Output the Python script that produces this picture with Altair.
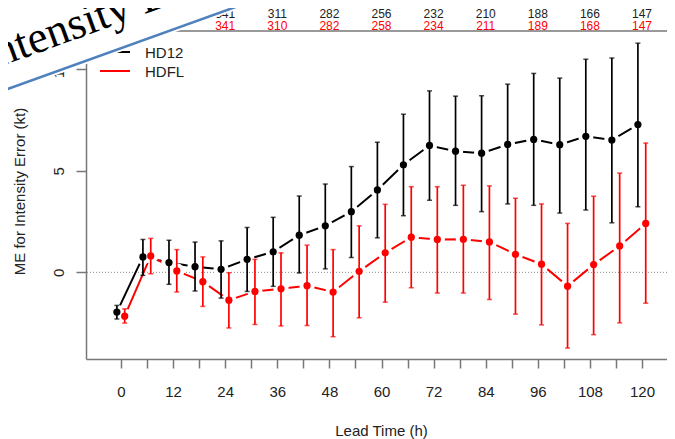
import altair as alt
import pandas as pd

# ---------------- data ----------------
lead = [0, 6, 12, 18, 24, 30, 36, 42, 48, 54, 60, 66, 72, 78, 84, 90, 96, 102, 108, 114, 120]

hd12_me = [-1.96, 0.76, 0.48, 0.28, 0.15, 0.64, 1.01, 1.83, 2.29, 2.99, 4.06,
           5.30, 6.25, 5.97, 5.87, 6.30, 6.55, 6.29, 6.70, 6.52, 7.28]
hd12_lo = [-2.30, -0.15, -0.59, -0.92, -1.27, -0.94, -0.69, -0.03, 0.17, 0.73, 1.70,
           2.79, 3.55, 3.30, 2.99, 3.37, 3.30, 2.92, 3.07, 2.44, 3.23]
hd12_hi = [-1.63, 1.62, 1.58, 1.49, 1.55, 2.21, 2.71, 3.76, 4.35, 5.21, 6.41,
           7.79, 8.94, 8.68, 8.70, 9.27, 9.80, 9.57, 10.50, 10.56, 11.29]

hdfl_me = [-2.16, 0.81, 0.07, -0.46, -1.37, -0.94, -0.81, -0.66, -0.97, 0.05, 0.96,
           1.73, 1.62, 1.63, 1.50, 0.89, 0.40, -0.68, 0.38, 1.30, 2.41]
hdfl_lo = [-2.50, -0.07, -0.97, -1.68, -2.74, -2.57, -2.64, -2.62, -3.17, -2.24, -1.47,
           -0.76, -1.02, -1.02, -1.34, -2.06, -2.59, -3.73, -3.07, -2.49, -1.52]
hdfl_hi = [-1.80, 1.67, 1.12, 0.76, -0.02, 0.64, 0.96, 1.34, 1.12, 2.29, 3.35,
           4.22, 4.22, 4.29, 4.26, 3.65, 3.37, 2.41, 3.75, 4.89, 6.37]

count_lead = [24, 36, 48, 60, 72, 84, 96, 108, 120]
hd12_n = [341, 311, 282, 256, 232, 210, 188, 166, 147]
hdfl_n = [341, 310, 282, 258, 234, 211, 189, 168, 147]

models = ["HD12", "HDFL"]
colors = ["#000000", "#ff0000"]
dodge = {"HD12": -0.95, "HDFL": 0.85}

# ---------------- tables ----------------
rows = []
for m, me, lo, hi in [("HD12", hd12_me, hd12_lo, hd12_hi), ("HDFL", hdfl_me, hdfl_lo, hdfl_hi)]:
    for t, a, b, c in zip(lead, me, lo, hi):
        rows.append({"lead": t, "model": m, "me": a, "lo": b, "hi": c, "xpos": t + dodge[m]})
df = pd.DataFrame(rows)

cnt_hd12 = pd.DataFrame({"lead": count_lead, "n": [str(v) for v in hd12_n]})
cnt_hdfl = pd.DataFrame({"lead": count_lead, "n": [str(v) for v in hdfl_n]})
one = pd.DataFrame({"k": [0]})  # single row for decorations

FONT = "Liberation Sans"
AX = "#777777"
TXT = "#222222"

W, H = 581, 328

xscale = alt.Scale(domain=[-8.06, 125.75], nice=False, zero=False)
yscale = alt.Scale(domain=[-4.27, 11.89], nice=False, zero=False)

xaxis = alt.Axis(
    values=list(range(0, 121, 6)),
    labelExpr="datum.value % 12 === 0 ? datum.label : ''",
    tickSize=9, labelPadding=16, domainColor=AX, tickColor=AX,
    domainWidth=1.5, tickWidth=1.5, grid=False,
    labelFont=FONT, labelFontSize=15, labelColor=TXT,
    labelOverlap=False, labelFlush=False,
    title="Lead Time (h)", titleFont=FONT, titleFontSize=15,
    titleFontWeight="normal", titleColor=TXT,
    titleBaseline="alphabetic", titleAlign="center", titleX=295, titleY=76,
)
yaxis = alt.Axis(
    values=[0, 5, 10], tickSize=10, labelAngle=270, labelAlign="center",
    labelBaseline="middle", labelPadding=18,
    domainColor=AX, tickColor=AX, domainWidth=1.5, tickWidth=1.5, grid=False,
    labelFont=FONT, labelFontSize=15, labelColor=TXT,
    title="ME for Intensity Error (kt)", titleFont=FONT, titleFontSize=15,
    titleFontWeight="normal", titleColor=TXT, titleAngle=270,
    titleAlign="center", titleBaseline="middle", titleX=-67, titleY=160,
)


def X(field):
    return alt.X(field, type="quantitative", scale=xscale, axis=xaxis, title="Lead Time (h)")


def Y(field):
    return alt.Y(field, type="quantitative", scale=yscale, axis=yaxis,
                 title="ME for Intensity Error (kt)")


color = alt.Color("model:N", scale=alt.Scale(domain=models, range=colors), legend=None)

base = alt.Chart(df)

zero = alt.Chart(one).mark_rule(color="#888888", strokeDash=[1, 2], strokeWidth=1).encode(
    y=alt.datum(0, scale=yscale, axis=yaxis)
)

lines = base.mark_line(strokeWidth=2).encode(
    x=X("xpos"), y=Y("me"), color=color, detail="model:N", order="lead:Q"
)

# white gaps around the points (R type="b" style)
halos = base.mark_circle(size=235, color="white", opacity=1).encode(
    x=X("xpos"), y=Y("me")
)

bars = base.mark_rule(strokeWidth=1.7).encode(
    x=X("xpos"), y=Y("lo"), y2="hi:Q", color=color
)

caps = base.transform_fold(["lo", "hi"], as_=["end", "val"]).mark_tick(
    orient="horizontal", size=5, thickness=1.5
).encode(x=X("xpos"), y=Y("val"), color=color)

points = base.mark_circle(size=52, opacity=1).encode(
    x=X("xpos"), y=Y("me"), color=color
)

cnt1 = alt.Chart(cnt_hd12).mark_text(
    font=FONT, fontSize=12, color=TXT, baseline="middle", align="center"
).encode(x=X("lead"), y=alt.value(-17.5), text="n:N")

cnt2 = alt.Chart(cnt_hdfl).mark_text(
    font=FONT, fontSize=12, color="#ff0000", baseline="middle", align="center"
).encode(x=X("lead"), y=alt.value(-5.5), text="n:N")

top_border = alt.Chart(one).mark_rule(color="#999999", strokeWidth=2).encode(
    x=alt.value(0), x2=alt.value(W), y=alt.value(0)
)

# legend (inside top-left of the plot)
leg_black = alt.Chart(one).mark_rule(color="#000000", strokeWidth=2).encode(
    x=alt.value(14), x2=alt.value(44), y=alt.value(21)
)
leg_red = alt.Chart(one).mark_rule(color="#ff0000", strokeWidth=2).encode(
    x=alt.value(14), x2=alt.value(44), y=alt.value(40)
)
leg_t1 = alt.Chart(one).mark_text(
    text="HD12", font=FONT, fontSize=15, color=TXT, align="left", baseline="middle"
).encode(x=alt.value(59), y=alt.value(22))
leg_t2 = alt.Chart(one).mark_text(
    text="HDFL", font=FONT, fontSize=15, color=TXT, align="left", baseline="middle"
).encode(x=alt.value(59), y=alt.value(41))

# slide-title overlay in the top-left corner
band = alt.Chart(one).mark_rule(color="white", strokeWidth=103, strokeCap="butt").encode(
    x=alt.value(-162.4), y=alt.value(36.8), x2=alt.value(197.6), y2=alt.value(-92.8)
)
blue = alt.Chart(one).mark_rule(color="#4f81bd", strokeWidth=2.5).encode(
    x=alt.value(-146), y=alt.value(82.4), x2=alt.value(214), y2=alt.value(-47.2)
)
title_txt = alt.Chart(one).mark_text(
    text="Intensity Bias", font="Liberation Serif", fontSize=45, color="#000000",
    align="left", baseline="alphabetic", angle=340
).encode(x=alt.value(-100.5), y=alt.value(41))

chart = alt.layer(
    zero, lines, halos, bars, caps, points, cnt1, cnt2, top_border,
    leg_black, leg_red, leg_t1, leg_t2, band, blue, title_txt
).properties(
    width=W, height=H,
    autosize=alt.AutoSizeParams(type="none"),
    padding={"left": 78, "top": 23, "right": 0, "bottom": 80},
).configure_view(strokeWidth=0)

chart.save("out.html", embed_options={"renderer": "svg", "actions": False})
